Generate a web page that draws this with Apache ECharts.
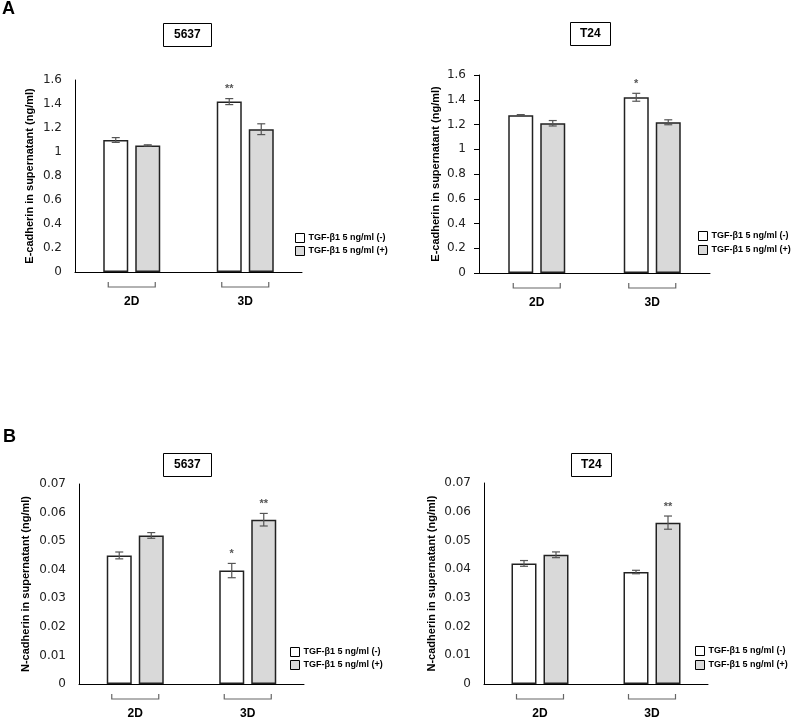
<!DOCTYPE html>
<html>
<head>
<meta charset="utf-8">
<script src="https://cdn.jsdelivr.net/npm/echarts@6/dist/echarts.min.js"></script>
<style>html,body{margin:0;padding:0;background:#fff}#c{width:800px;height:720px}</style>
</head>
<body>
<div id="c"></div>
<script>
// ---- data ----
const categories = ['2D', '3D'];
const seriesNames = ['TGF-β1 5 ng/ml (-)', 'TGF-β1 5 ng/ml (+)'];

// E-cadherin, 5637
const ecad5637Minus = [1.10, 1.42];
const ecad5637MinusErr = [0.02, 0.025];
const ecad5637MinusSig = ['', '**'];
const ecad5637Plus = [1.055, 1.19];
const ecad5637PlusErr = [0.005, 0.045];
const ecad5637PlusSig = ['', ''];

// E-cadherin, T24
const ecadT24Minus = [1.275, 1.42];
const ecadT24MinusErr = [0.005, 0.032];
const ecadT24MinusSig = ['', '*'];
const ecadT24Plus = [1.21, 1.218];
const ecadT24PlusErr = [0.022, 0.02];
const ecadT24PlusSig = ['', ''];

// N-cadherin, 5637
const ncad5637Minus = [0.045, 0.0397];
const ncad5637MinusErr = [0.0012, 0.0025];
const ncad5637MinusSig = ['', '*'];
const ncad5637Plus = [0.052, 0.0575];
const ncad5637PlusErr = [0.001, 0.0022];
const ncad5637PlusSig = ['', '**'];

// N-cadherin, T24
const ncadT24Minus = [0.042, 0.039];
const ncadT24MinusErr = [0.001, 0.0006];
const ncadT24MinusSig = ['', ''];
const ncadT24Plus = [0.045, 0.0562];
const ncadT24PlusErr = [0.001, 0.0023];
const ncadT24PlusSig = ['', '**'];

const panelTitles = ['5637', 'T24', '5637', 'T24'];
const yNames = ['E-cadherin in supernatant (ng/ml)', 'E-cadherin in supernatant (ng/ml)',
                'N-cadherin in supernatant (ng/ml)', 'N-cadherin in supernatant (ng/ml)'];
const yMax = [1.6, 1.6, 0.07, 0.07];
const yInterval = [0.2, 0.2, 0.01, 0.01];

// ---- layout / style ----
const grids = [
  {left: 75, top: 80, width: 227, height: 192},
  {left: 479, top: 75, width: 231, height: 198},
  {left: 79, top: 484, width: 225, height: 200},
  {left: 484, top: 483, width: 224, height: 201}
];
const nameGaps = [40, 38, 48, 47];
const yTicks = [false, true, false, false];
const titleBoxes = [
  {left: 163, top: 23, pad: [6, 11]},
  {left: 570, top: 22, pad: [6, 10]},
  {left: 163, top: 453, pad: [6, 11]},
  {left: 571, top: 453, pad: [6, 10]}
];
const legendPos = [
  {left: 295, top: 233, gap: 3},
  {left: 698, top: 231, gap: 4},
  {left: 290, top: 647, gap: 3},
  {left: 695, top: 646, gap: 4}
];
const fills = ['#ffffff', '#d9d9d9'];
const BAR_W = 25;
const OFFSET = 16;

const panels = [
  [ecad5637Minus, ecad5637MinusErr, ecad5637MinusSig, ecad5637Plus, ecad5637PlusErr, ecad5637PlusSig],
  [ecadT24Minus, ecadT24MinusErr, ecadT24MinusSig, ecadT24Plus, ecadT24PlusErr, ecadT24PlusSig],
  [ncad5637Minus, ncad5637MinusErr, ncad5637MinusSig, ncad5637Plus, ncad5637PlusErr, ncad5637PlusSig],
  [ncadT24Minus, ncadT24MinusErr, ncadT24MinusSig, ncadT24Plus, ncadT24PlusErr, ncadT24PlusSig]
];

function errSeries(i, vals, errs, sigs, offset) {
  return {
    type: 'custom', xAxisIndex: i, yAxisIndex: i, z: 5, silent: true,
    data: vals.map((v, k) => [k, v, errs[k], sigs[k]]),
    renderItem: function (params, api) {
      const k = api.value(0), v = api.value(1), e = api.value(2);
      const sig = sigs[k];
      const top = api.coord([k, v + e]);
      const bot = api.coord([k, v - e]);
      const x = top[0] + offset;
      const cap = 4;
      const st = {stroke: '#555', lineWidth: 1.2, fill: null};
      const children = [
        {type: 'line', shape: {x1: x, y1: top[1], x2: x, y2: bot[1]}, style: st},
        {type: 'line', shape: {x1: x - cap, y1: top[1], x2: x + cap, y2: top[1]}, style: st},
        {type: 'line', shape: {x1: x - cap, y1: bot[1], x2: x + cap, y2: bot[1]}, style: st}
      ];
      if (sig) {
        children.push({type: 'text', style: {x: x, y: top[1] - 4, text: sig, align: 'center', verticalAlign: 'bottom',
          font: 'bold 11px "Liberation Sans", Arial, sans-serif', fill: '#555'}});
      }
      return {type: 'group', children: children};
    }
  };
}

function bracketSeries(i) {
  return {
    type: 'custom', xAxisIndex: i, yAxisIndex: i, z: 5, silent: true, clip: false,
    data: categories.map((c, k) => [k, 0]),
    renderItem: function (params, api) {
      const p = api.coord([api.value(0), 0]);
      const x0 = p[0] - 23.5, x1 = p[0] + 23.5, yb = p[1] + 15, yt = p[1] + 10;
      return {type: 'polyline', shape: {points: [[x0, yt], [x0, yb], [x1, yb], [x1, yt]]},
        style: {stroke: '#666', lineWidth: 1.2, fill: null}};
    }
  };
}

const option = {
  animation: false,
  backgroundColor: '#fff',
  title: [
    {text: 'A', left: 2, top: 0, textStyle: {fontFamily: '"Liberation Sans", Arial, sans-serif', fontWeight: 'bold', fontSize: 18, color: '#000'}, padding: 0},
    {text: 'B', left: 3, top: 428, textStyle: {fontFamily: '"Liberation Sans", Arial, sans-serif', fontWeight: 'bold', fontSize: 18, color: '#000'}, padding: 0}
  ].concat(panelTitles.map((t, i) => ({
    text: t, left: titleBoxes[i].left, top: titleBoxes[i].top, padding: titleBoxes[i].pad,
    borderColor: '#000', borderWidth: 1,
    textStyle: {fontFamily: '"Liberation Sans", Arial, sans-serif', fontWeight: 'bold', fontSize: 12, color: '#000'}
  }))),
  legend: legendPos.map(p => ({
    left: p.left, top: p.top, orient: 'vertical', itemWidth: 9, itemHeight: 9, itemGap: p.gap,
    padding: 0,
    icon: 'rect', data: seriesNames, selectedMode: false,
    itemStyle: {borderColor: '#000', borderWidth: 1},
    textStyle: {fontFamily: '"Liberation Sans", Arial, sans-serif', fontWeight: 'bold', fontSize: 9, color: '#000', padding: [0, 0, 0, -1]}
  })),
  grid: grids,
  xAxis: grids.map((g, i) => ({
    type: 'category', gridIndex: i, data: categories,
    axisLine: {lineStyle: {color: '#000', width: 1}},
    axisTick: {show: false},
    axisLabel: {margin: 24, fontFamily: '"Liberation Sans", Arial, sans-serif', fontWeight: 'bold', fontSize: 12, color: '#000'}
  })),
  yAxis: grids.map((g, i) => ({
    type: 'value', gridIndex: i, min: 0, max: yMax[i], interval: yInterval[i],
    name: yNames[i], nameLocation: 'middle', nameGap: nameGaps[i], nameRotate: 90,
    nameTextStyle: {fontFamily: '"Liberation Sans", Arial, sans-serif', fontWeight: 'bold', fontSize: 11, color: '#000'},
    axisLine: {show: true, lineStyle: {color: '#000', width: 1}},
    axisTick: {show: yTicks[i], length: 5, lineStyle: {color: '#000'}},
    splitLine: {show: false},
    axisLabel: {margin: 13, fontFamily: '"DejaVu Sans", Verdana, sans-serif', fontSize: 12, color: '#222'}
  })),
  series: []
};

panels.forEach((p, i) => {
  const [mv, me, ms, pv, pe, ps] = p;
  option.series.push({
    name: seriesNames[0], type: 'bar', xAxisIndex: i, yAxisIndex: i, data: mv,
    barWidth: BAR_W, barGap: '28%',
    itemStyle: {color: fills[0], borderColor: '#222', borderWidth: 1.5}
  });
  option.series.push({
    name: seriesNames[1], type: 'bar', xAxisIndex: i, yAxisIndex: i, data: pv,
    barWidth: BAR_W, barGap: '28%',
    itemStyle: {color: fills[1], borderColor: '#222', borderWidth: 1.5}
  });
  option.series.push(errSeries(i, mv, me, ms, -OFFSET));
  option.series.push(errSeries(i, pv, pe, ps, OFFSET));
  option.series.push(bracketSeries(i));
});

const chart = echarts.init(document.getElementById('c'), null, {renderer: 'canvas'});
chart.setOption(option);
</script>
</body>
</html>
